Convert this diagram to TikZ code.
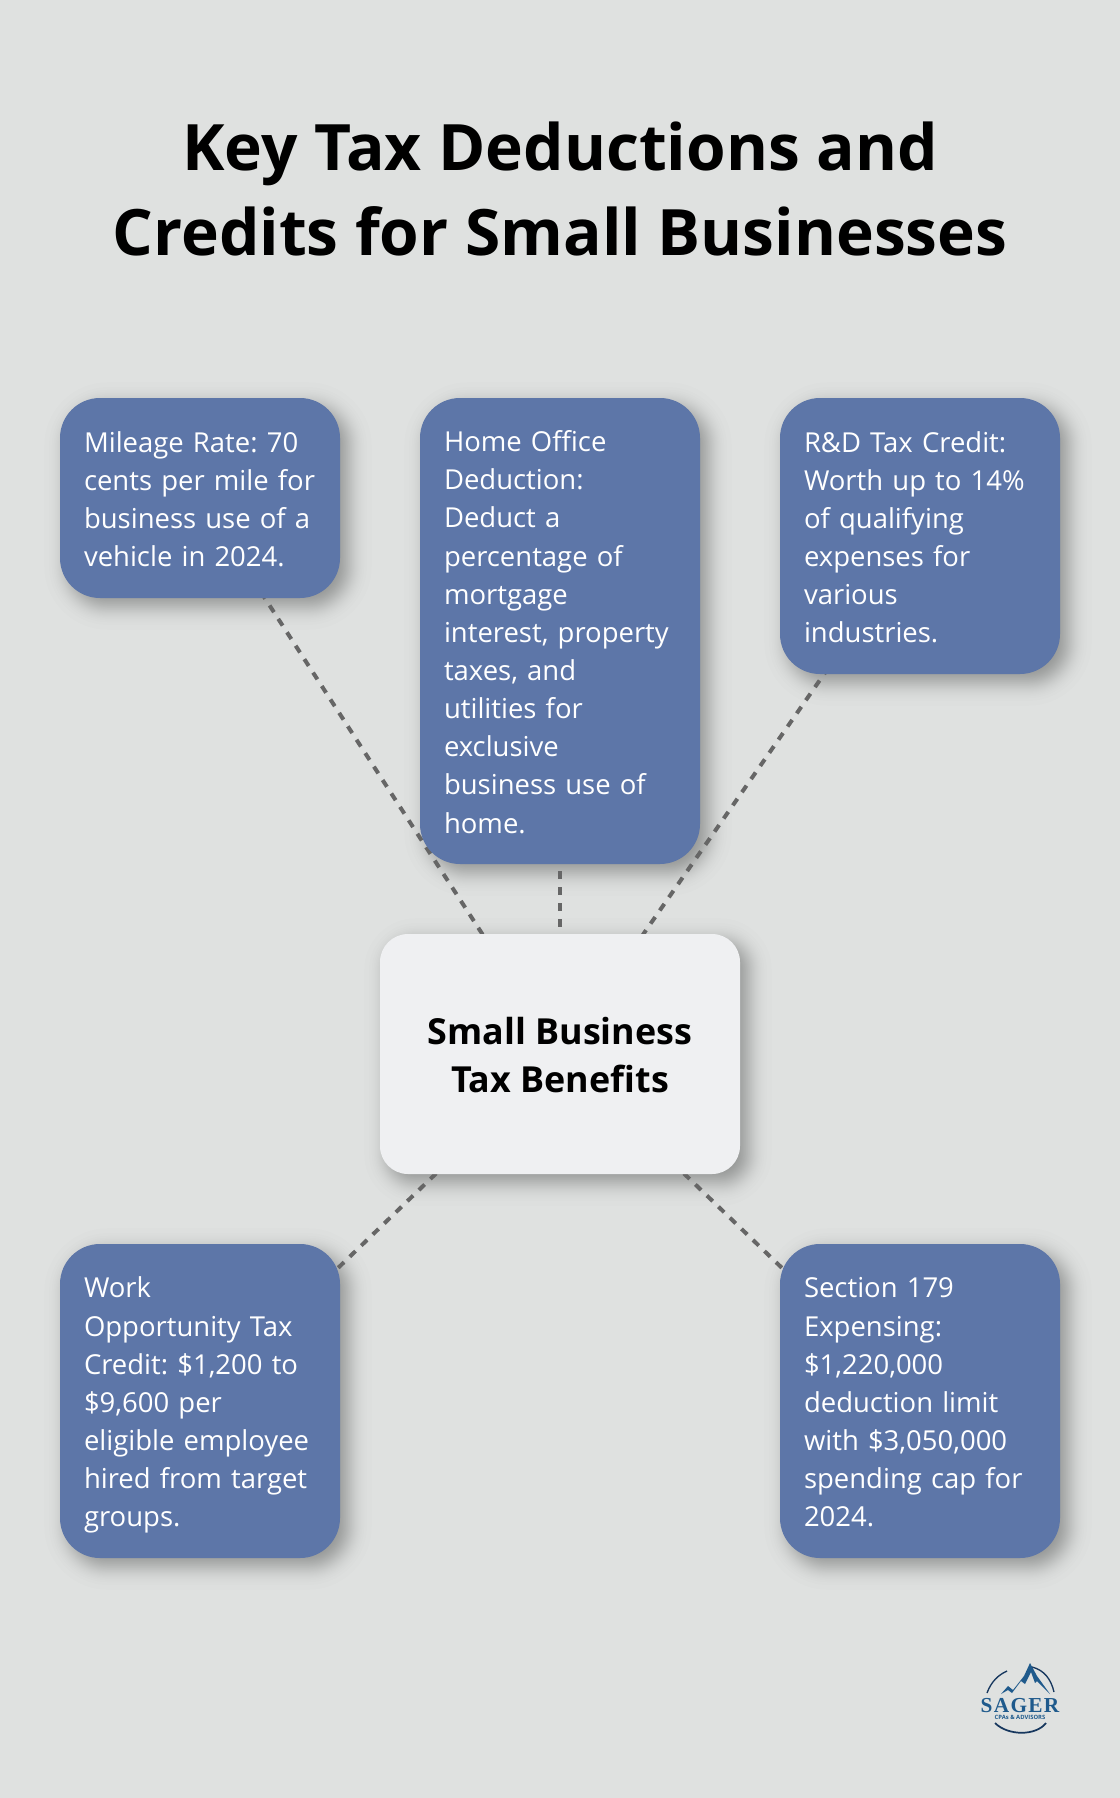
\documentclass[tikz,border=0pt]{standalone}
\usepackage{fontspec}
\setmainfont{Open Sans}
\frenchspacing
\newfontfamily\logoserif[LetterSpace=6]{Liberation Serif}
\usetikzlibrary{backgrounds}
\definecolor{pagebg}{HTML}{DFE1E0}
\definecolor{boxblue}{HTML}{5D76A8}
\definecolor{hubfill}{HTML}{EFF0F2}
\definecolor{linkgray}{HTML}{666666}
\definecolor{logoblue}{HTML}{1F5A8C}
\definecolor{logonavy}{HTML}{17375E}
\tikzset{
  infobox/.style={draw=none,fill=boxblue,rounded corners=30pt,text=white,
     minimum width=210pt,inner xsep=18pt,inner ysep=0pt,text width=174pt,align=left,
     font=\fontsize{20.6}{28.6}\selectfont,
     execute at begin node={\rule{0pt}{22.5pt}},
     execute at end node={\rule[-5.5pt]{0pt}{0pt}}},
  hubbox/.style={draw=none,fill=hubfill,rounded corners=21pt,text=black,
     minimum width=270pt,minimum height=180pt,align=center,
     font=\fontsize{26.9}{36.3}\selectfont\bfseries},
  titlebox/.style={text=black,align=center,inner sep=0pt,font=\fontsize{48}{63.8}\selectfont\bfseries\addfontfeature{Kerning=Off}},
  link/.style={draw=linkgray,line width=3pt,dash pattern=on 6pt off 6pt},
  logotext/.style={text=logoblue,inner sep=0pt},
  shadowlayer/.style={fill=black,fill opacity=0.0095}
}
% stacked translucent outlines give the soft drop shadow of a box
\newcommand{\softshadow}[2]{%
  \foreach \m in {23.5,18.7,16,14.1,12.6,11.3,10.2,9.2,8.3,7.4,6.6,5.8,5.1,4.4,3.7,3,2.3,1.6,1,0.3}{%
    \foreach \sgn in {1,-1}{%
      \pgfmathsetmacro{\s}{\sgn*\m}%
      \pgfmathsetmacro{\rr}{max(3,#2+0.75*\s)}%
      \fill[shadowlayer,rounded corners=\rr pt]
        ([shift={(8-\s,8-\s)}]#1.north west) rectangle ([shift={(8+\s,8+\s)}]#1.south east);
    }%
  }%
}
\begin{document}
\begin{tikzpicture}[x=0.75pt,y=-0.75pt]
\useasboundingbox (0,0) rectangle (1120,1798);
\node[titlebox] (title) at (560,189) {Key Tax Deductions and\\Credits for Small Businesses};
\node[hubbox] (hub) at (560,1054) {\rule{0pt}{21.8pt}Small Business\\Tax Benefits};
\node[infobox,minimum height=150pt] (mileage) at (200,498) {Mileage Rate: 70\\cents per mile for\\business use of a\\vehicle in 2024.};
\node[infobox,minimum height=349.5pt] (home) at (560,631) {Home Office\\Deduction:\\Deduct a\\percentage of\\mortgage\\interest, property\\taxes, and\\utilities for\\exclusive\\business use of\\home.};
\node[infobox,minimum height=207pt] (rd) at (920,536) {R\&D Tax Credit:\\Worth up to 14\%\\of qualifying\\expenses for\\various\\industries.};
\node[infobox,minimum height=235.5pt] (wotc) at (200,1401) {Work\\Opportunity Tax\\Credit: \$1,200 to\\\$9,600 per\\eligible employee\\hired from target\\groups.};
\node[infobox,minimum height=235.5pt] (sec) at (920,1401) {Section 179\\Expensing:\\\$1,220,000\\deduction limit\\with \$3,050,000\\spending cap for\\2024.};
\begin{scope}[on background layer]
  \fill[pagebg] (0,0) rectangle (1120,1798);
  \softshadow{hub}{21}
  \softshadow{mileage}{30}
  \softshadow{home}{30}
  \softshadow{rd}{30}
  \softshadow{wotc}{30}
  \softshadow{sec}{30}
  \draw[link] (mileage.center) -- (hub.center);
  \draw[link] (home.center) -- (hub.center);
  \draw[link] (rd.center) -- (hub.center);
  \draw[link] (wotc.center) -- (hub.center);
  \draw[link] (sec.center) -- (hub.center);
\end{scope}
% logo
\draw[logonavy,line width=1pt] (987,1693) .. controls (991,1682) and (998,1675) .. (1007,1671);
\draw[logonavy,line width=1pt] (1032,1667) .. controls (1044,1670) and (1051,1679) .. (1054,1692);
\draw[logonavy,line width=1.3pt] (995,1723) .. controls (1008,1736) and (1036,1736) .. (1046,1723);
\fill[logoblue] (1001,1694) -- (1008,1686) -- (1013,1690) -- (1024,1676) -- (1030,1663) -- (1037,1676) -- (1050,1694) -- (1037,1681) -- (1035,1683) -- (1031,1672) -- (1025,1684) -- (1021,1681) -- (1012,1693) -- (1008,1690) -- cycle;
\node[logotext,font=\fontsize{16}{18}\logoserif\bfseries] (sager) at (1020,1706) {SAGER};
\node[logotext,font=\fontsize{4.4}{5}\selectfont\bfseries] (cpas) at (1020,1717.5) {CPAs \& ADVISORS};
\end{tikzpicture}
\end{document}
